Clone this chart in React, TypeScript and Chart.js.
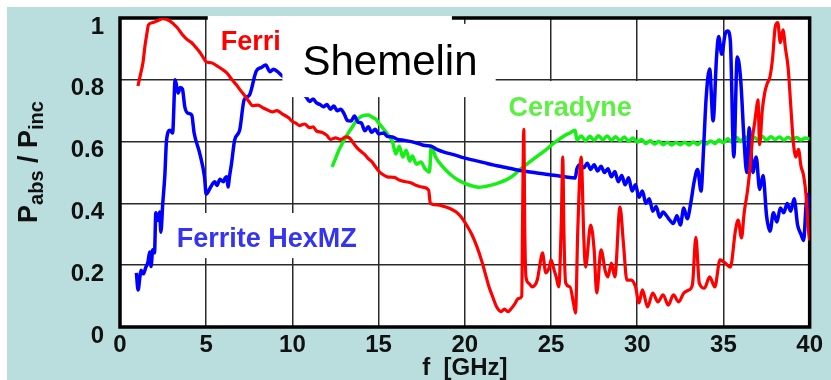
import React, { useEffect, useRef } from "react";
import { Chart, registerables } from "chart.js";

Chart.register(...registerables);

// ---------- data ----------
const ferriFreq = [1.04,1.2,1.33,1.45,1.56,1.65,1.9,2.13,2.5,2.9,3.3,3.64,3.9,4.16,4.4,4.62,4.85,5.0,5.3,5.6,5.9,6.2,6.5,6.76,7.0,7.3,7.5,7.7,8.0,8.27,8.5,8.84,9.1,9.4,9.8,10.0,10.2,10.4,10.7,11.0,11.2,11.4,11.7,12.0,12.2,12.5,12.8,13.1,13.3,13.5,13.7,14.0,14.2,14.4,14.6,14.8,15.0,15.2,15.5,15.9,16.2,16.5,16.9,17.2,17.5,17.9,18.0,18.4,18.8,19.2,19.5,19.8,20.1,20.4,20.7,21.0,21.2,21.4,21.6,21.85,22.1,22.3,22.5,22.7,22.9,23.1,23.3,23.35,23.42,23.48,23.55,23.7,23.9,24.2,24.4,24.5,24.7,24.9,25.0,25.15,25.3,25.45,25.6,25.68,25.75,25.85,26.1,26.3,26.42,26.55,26.75,26.9,27.0,27.3,27.5,27.65,27.9,28.15,28.3,28.5,28.7,29.0,29.2,29.4,29.65,29.9,30.1,30.3,30.6,30.9,31.2,31.5,31.8,32.1,32.4,32.7,33.0,33.2,33.4,33.6,33.9,34.2,34.5,34.8,35.1,35.4,35.7,35.85,36.05,36.2,36.4,36.55,36.7,36.8,36.9,37.0,37.1,37.25,37.4,37.55,37.7,37.85,38.0,38.15,38.3,38.45,38.6,38.75,38.9,39.05,39.2,39.35,39.5,39.65,39.8,39.9,40.0];
const ferriAbs = [0.78,0.82,0.855,0.91,0.95,0.978,0.985,0.99,0.998,0.99,0.97,0.945,0.93,0.92,0.905,0.89,0.87,0.858,0.855,0.846,0.835,0.822,0.8,0.783,0.765,0.744,0.728,0.716,0.718,0.71,0.704,0.696,0.7,0.69,0.676,0.665,0.66,0.652,0.657,0.645,0.648,0.634,0.63,0.62,0.607,0.612,0.607,0.615,0.612,0.598,0.583,0.567,0.558,0.545,0.535,0.52,0.505,0.495,0.486,0.484,0.476,0.471,0.466,0.458,0.453,0.443,0.4,0.395,0.39,0.382,0.372,0.355,0.33,0.3,0.26,0.21,0.17,0.13,0.1,0.065,0.05,0.058,0.05,0.06,0.075,0.092,0.1,0.35,0.64,0.3,0.16,0.142,0.13,0.152,0.217,0.24,0.175,0.194,0.217,0.19,0.162,0.13,0.35,0.55,0.3,0.142,0.13,0.078,0.045,0.31,0.55,0.29,0.194,0.33,0.25,0.11,0.25,0.18,0.162,0.207,0.162,0.388,0.27,0.152,0.152,0.13,0.078,0.12,0.065,0.11,0.081,0.104,0.071,0.104,0.081,0.11,0.12,0.136,0.29,0.142,0.126,0.162,0.13,0.217,0.207,0.194,0.314,0.346,0.288,0.369,0.443,0.52,0.62,0.657,0.7,0.735,0.59,0.7,0.76,0.79,0.81,0.87,0.97,0.985,0.92,0.962,0.9,0.84,0.72,0.6,0.55,0.575,0.52,0.49,0.42,0.33,0.28];

const hexFreq = [0.95,1.05,1.15,1.22,1.35,1.5,1.62,1.72,1.8,1.9,2.0,2.08,2.2,2.3,2.37,2.48,2.6,2.7,2.9,3.05,3.2,3.37,3.5,3.62,3.76,3.93,4.16,4.3,4.62,4.9,5.0,5.26,5.4,5.5,5.62,5.8,6.0,6.1,6.2,6.26,6.36,6.47,6.65,6.94,7.2,7.5,7.9,8.2,8.45,8.7,8.9,9.1,9.36,9.7,10.1,10.5,10.8,11.0,11.2,11.4,11.6,11.8,12.0,12.2,12.4,12.6,12.8,13.0,13.2,13.4,13.6,13.8,14.0,14.2,14.4,14.6,14.8,15.0,15.3,15.5,15.8,16.1,16.5,16.9,17.3,17.7,18.0,18.4,18.8,19.4,19.9,20.5,21.1,21.7,22.3,22.9,23.5,24.1,24.7,25.3,25.8,26.4,26.5,26.7,26.9,27.1,27.3,27.5,27.7,27.9,28.1,28.3,28.5,28.7,28.9,29.1,29.3,29.5,29.7,29.9,30.1,30.3,30.5,30.7,30.9,31.1,31.3,31.5,31.7,31.9,32.1,32.3,32.5,32.7,32.9,33.1,33.3,33.5,33.7,33.85,34.0,34.2,34.4,34.6,34.72,34.9,35.1,35.25,35.4,35.6,35.8,36.0,36.2,36.35,36.5,36.7,36.9,37.1,37.3,37.5,37.7,37.9,38.1,38.3,38.5,38.7,38.9,39.1,39.3,39.5,39.65,39.8,39.9,40.0];
const hexAbs = [0.175,0.12,0.16,0.184,0.172,0.194,0.21,0.243,0.196,0.25,0.24,0.37,0.345,0.372,0.307,0.4,0.49,0.605,0.637,0.628,0.8,0.757,0.775,0.77,0.712,0.692,0.686,0.628,0.563,0.486,0.43,0.453,0.466,0.47,0.458,0.478,0.47,0.482,0.486,0.453,0.49,0.53,0.605,0.637,0.735,0.75,0.828,0.84,0.848,0.826,0.834,0.828,0.815,0.8,0.78,0.76,0.744,0.73,0.738,0.725,0.72,0.713,0.72,0.705,0.715,0.7,0.705,0.69,0.668,0.667,0.683,0.663,0.66,0.635,0.648,0.63,0.64,0.625,0.628,0.617,0.615,0.607,0.604,0.6,0.594,0.587,0.586,0.574,0.566,0.557,0.548,0.54,0.532,0.524,0.517,0.51,0.504,0.499,0.494,0.49,0.486,0.482,0.512,0.525,0.515,0.53,0.51,0.525,0.505,0.52,0.5,0.512,0.486,0.503,0.47,0.49,0.46,0.483,0.44,0.46,0.42,0.44,0.4,0.415,0.375,0.39,0.355,0.372,0.36,0.345,0.335,0.36,0.33,0.385,0.35,0.4,0.47,0.51,0.44,0.58,0.744,0.835,0.667,0.874,0.94,0.883,0.948,0.958,0.926,0.55,0.874,0.8,0.6,0.5,0.645,0.5,0.55,0.445,0.49,0.36,0.31,0.37,0.34,0.385,0.37,0.4,0.375,0.415,0.33,0.3,0.28,0.4,0.43,0.36];

const ceraFreq = [12.3,12.5,12.7,12.9,13.1,13.3,13.5,13.7,13.9,14.1,14.4,14.6,14.85,15.0,15.2,15.5,15.8,16.0,16.2,16.4,16.6,16.8,16.95,17.2,17.45,17.7,17.95,18.05,18.3,18.7,19.2,19.6,20.0,20.4,20.8,21.2,21.6,22.0,22.4,22.8,23.1,23.5,23.9,24.3,24.7,25.0,25.4,25.8,26.1,26.4,26.5,26.75,27.0,27.25,27.5,27.75,28.0,28.25,28.5,28.75,29.0,29.25,29.5,29.75,30.0,30.25,30.5,30.75,31.0,31.25,31.5,31.75,32.0,32.25,32.5,32.75,33.0,33.25,33.5,33.75,34.0,34.25,34.5,34.75,35.0,35.25,35.5,35.75,36.0,36.25,36.5,36.75,37.0,37.25,37.5,37.75,38.0,38.25,38.5,38.75,39.0,39.25,39.5,39.75,40.0];
const ceraAbs = [0.518,0.545,0.573,0.595,0.615,0.633,0.65,0.666,0.678,0.684,0.686,0.68,0.672,0.66,0.647,0.625,0.6,0.56,0.585,0.55,0.572,0.537,0.553,0.527,0.534,0.512,0.502,0.585,0.55,0.52,0.492,0.476,0.465,0.457,0.452,0.455,0.46,0.467,0.476,0.49,0.505,0.523,0.54,0.557,0.573,0.588,0.605,0.62,0.628,0.637,0.605,0.618,0.603,0.617,0.604,0.619,0.606,0.618,0.605,0.616,0.603,0.615,0.601,0.612,0.598,0.607,0.594,0.603,0.592,0.601,0.59,0.598,0.589,0.597,0.59,0.598,0.589,0.599,0.591,0.6,0.592,0.602,0.594,0.605,0.596,0.609,0.598,0.614,0.6,0.616,0.604,0.615,0.606,0.617,0.605,0.616,0.607,0.615,0.605,0.614,0.606,0.613,0.605,0.612,0.608];

const xTickStep = 5;
const yTickStep = 0.2;
const xAxisTitle = "f  [GHz]";
const ferriLabel = "Ferri";
const hexLabel = "Ferrite HexMZ";
const ceraLabel = "Ceradyne";
const authorLabel = "Shemelin";

// ---------- styling ----------
const FONT = '"Liberation Sans", Arial, Helvetica, sans-serif';
const TEAL = "#badede";
const RED = "#ff0000";
const BLUE = "#0000ff";
const GREEN = "#14f014";

const toPoints = (xs: number[], ys: number[]) => xs.map((x, i) => ({ x, y: ys[i] }));

const overlayPlugin = {
  id: "overlay",
  beforeDraw(chart: any) {
    const { ctx, chartArea: a } = chart;
    ctx.save();
    ctx.fillStyle = "#ffffff";
    ctx.fillRect(a.left, a.top, a.right - a.left, a.bottom - a.top);
    ctx.restore();
  },
  beforeDatasetsDraw(chart: any) {
    const { ctx, chartArea: a, scales } = chart;
    const px = (v: number) => scales.x.getPixelForValue(v);
    const py = (v: number) => scales.y.getPixelForValue(v);
    ctx.save();
    ctx.strokeStyle = "#000";
    ctx.lineWidth = 3.5;
    ctx.strokeRect(a.left, a.top, a.right - a.left, a.bottom - a.top);
    ctx.fillStyle = "#ffffff";
    const box = (x0: number, x1: number, y0: number, y1: number) =>
      ctx.fillRect(px(x0), py(y0), px(x1) - px(x0), py(y1) - py(y0));
    box(5.09, 19.25, 1.0065, 0.858); // behind "Ferri"
    box(21.97, 30.64, 0.796, 0.638); // behind "Ceradyne"
    box(3.0, 14.57, 0.369, 0.223); // behind "Ferrite HexMZ"
    ctx.restore();
  },
  afterDatasetsDraw(chart: any) {
    const { ctx, scales } = chart;
    const px = (v: number) => scales.x.getPixelForValue(v);
    const py = (v: number) => scales.y.getPixelForValue(v);
    ctx.save();
    ctx.fillStyle = "#ffffff";
    ctx.fillRect(px(9.42), py(0.981), px(21.79) - px(9.42), py(0.744) - py(0.981));
    ctx.textBaseline = "alphabetic";
    ctx.textAlign = "left";
    ctx.font = `42px ${FONT}`;
    ctx.fillStyle = "#000";
    ctx.fillText(authorLabel, px(10.58), py(0.8155));
    ctx.font = `bold 27px ${FONT}`;
    ctx.fillStyle = RED;
    ctx.fillText(ferriLabel, px(5.84), py(0.896));
    ctx.fillStyle = "#5cf042";
    ctx.fillText(ceraLabel, px(22.54), py(0.683));
    ctx.fillStyle = "#3434f2";
    ctx.fillText(hexLabel, px(3.29), py(0.259));

    // y-axis title with subscripts
    const big = `bold 27px ${FONT}`;
    const small = `bold 20px ${FONT}`;
    const parts: [string, string, number][] = [
      ["P", big, 0],
      ["abs", small, 6],
      [" / ", big, 0],
      ["P", big, 0],
      ["inc", small, 6],
    ];
    let total = 0;
    for (const [t, f] of parts) {
      ctx.font = f;
      total += ctx.measureText(t).width;
    }
    ctx.translate(30, 155);
    ctx.rotate(-Math.PI / 2);
    ctx.fillStyle = "#111";
    let x = -total / 2;
    for (const [t, f, dy] of parts) {
      ctx.font = f;
      ctx.fillText(t, x, dy);
      x += ctx.measureText(t).width;
    }
    ctx.restore();
  },
};

export default function App() {
  const ref = useRef<HTMLCanvasElement | null>(null);

  useEffect(() => {
    if (!ref.current) return;
    const chart = new Chart(ref.current, {
      type: "line",
      data: {
        datasets: [
          {
            label: "Ferrite",
            data: toPoints(ferriFreq, ferriAbs),
            borderColor: RED,
            borderWidth: 3.2,
            pointRadius: 0,
            cubicInterpolationMode: "monotone",
          },
          {
            label: hexLabel,
            data: toPoints(hexFreq, hexAbs),
            borderColor: BLUE,
            borderWidth: 3.5,
            pointRadius: 0,
            cubicInterpolationMode: "monotone",
          },
          {
            label: ceraLabel,
            data: toPoints(ceraFreq, ceraAbs),
            borderColor: GREEN,
            borderWidth: 3.5,
            pointRadius: 0,
            cubicInterpolationMode: "monotone",
          },
        ],
      },
      options: {
        animation: false,
        responsive: false,
        devicePixelRatio: 1,
        layout: { padding: { left: 0, top: 11, right: 19, bottom: 0 } },
        plugins: { legend: { display: false }, tooltip: { enabled: false } },
        scales: {
          x: {
            type: "linear",
            min: 0,
            max: 40,
            border: { display: false },
            grid: { color: "#2a2a2a", lineWidth: 1.5, drawTicks: false },
            ticks: {
              stepSize: xTickStep,
              padding: 8,
              color: "#111",
              font: { family: FONT, size: 24, weight: "bold", lineHeight: 0.9 },
              maxRotation: 0,
            },
            title: {
              display: true,
              text: xAxisTitle,
              color: "#111",
              font: { family: FONT, size: 24, weight: "bold", lineHeight: 1 },
              padding: { top: 0, bottom: 0 },
            },
            afterFit: (s: any) => {
              s.height = 53;
            },
          },
          y: {
            min: 0,
            max: 1,
            border: { display: false },
            grid: { color: "#2a2a2a", lineWidth: 1.5, drawTicks: false },
            ticks: {
              stepSize: yTickStep,
              padding: 16,
              labelOffset: 9,
              color: "#111",
              font: { family: FONT, size: 24, weight: "bold", lineHeight: 0.9 },
              callback: (v: any) => String(Number(Number(v).toFixed(1))),
            },
            afterFit: (s: any) => {
              s.width = 113;
              s.paddingTop = 0;
              s.paddingBottom = 0;
            },
          },
        },
      },
      plugins: [overlayPlugin],
    } as any);
    return () => chart.destroy();
  }, []);

  return (
    <div
      style={{
        position: "fixed",
        left: 7,
        top: 7,
        width: 824,
        height: 373,
        background: TEAL,
      }}
    >
      <canvas ref={ref} width={824} height={373} style={{ display: "block", width: 824, height: 373 }} />
    </div>
  );
}
